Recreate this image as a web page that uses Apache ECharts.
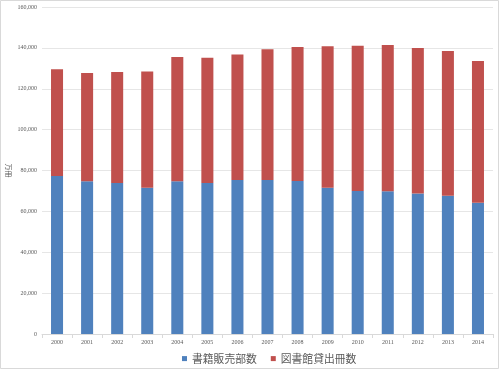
<!DOCTYPE html>
<html><head><meta charset="utf-8">
<script src="https://cdn.jsdelivr.net/npm/echarts@6/dist/echarts.min.js"></script>
<style>html,body{margin:0;padding:0;background:#fff}#c{width:500px;height:370px}</style>
</head><body><div id="c"></div>
<script>
const years = ['2000','2001','2002','2003','2004','2005','2006','2007','2008','2009','2010','2011','2012','2013','2014'];
const bookSales = [77300,74700,73900,71600,74700,73900,75400,75400,74900,71600,70000,69800,68700,67700,64200];
const libraryLoans = [52200,53000,54300,56800,60800,61300,61400,63900,65500,69200,71100,71600,71200,70800,69400];
const yTicks = [0,20000,40000,60000,80000,100000,120000,140000,160000];
const seriesNames = ['書籍販売部数','図書館貸出冊数'];
const yTitle = '万冊';

const chart = echarts.init(document.getElementById('c'), null, {renderer:'canvas'});
const fmt = v => v.toLocaleString('en-US');
chart.setOption({
  animation:false,
  backgroundColor:'#fff',
  graphic:[{type:'rect',shape:{x:0.5,y:0.5,width:498,height:368},style:{fill:'none',stroke:'#d9d9d9',lineWidth:1},silent:true}],
  grid:{left:42,right:7,top:7,bottom:36,containLabel:false,outerBoundsMode:'none'},
  legend:{
    bottom:1,left:177,itemWidth:5,itemHeight:5,itemGap:14,icon:'rect',
    textStyle:{fontSize:10.8,color:'#595959',fontFamily:'Noto Sans CJK JP'},
    data:seriesNames
  },
  xAxis:{type:'category',data:years,
    axisLine:{lineStyle:{color:'#d9d9d9'}},
    axisTick:{show:true,lineStyle:{color:'#d9d9d9'},length:4},
    axisLabel:{fontSize:6,color:'#595959',margin:5,interval:0,fontFamily:'Liberation Serif'}
  },
  yAxis:{type:'value',min:yTicks[0],max:yTicks[yTicks.length-1],interval:yTicks[1]-yTicks[0],
    name:yTitle,nameLocation:'middle',nameRotate:-90,nameGap:30,nameMoveOverlap:false,
    nameTextStyle:{fontSize:7,color:'#595959',fontFamily:'Noto Sans CJK JP'},
    axisLine:{show:false},axisTick:{show:false},
    splitLine:{lineStyle:{color:'#e6e6e6'}},
    axisLabel:{fontSize:6,color:'#595959',margin:5,formatter:fmt,fontFamily:'Liberation Serif'}
  },
  series:[
    {name:seriesNames[0],type:'bar',stack:'a',data:bookSales,barWidth:'40%',itemStyle:{color:'#4f81bd'}},
    {name:seriesNames[1],type:'bar',stack:'a',data:libraryLoans,barWidth:'40%',itemStyle:{color:'#c0504d'}}
  ]
});
</script></body></html>
